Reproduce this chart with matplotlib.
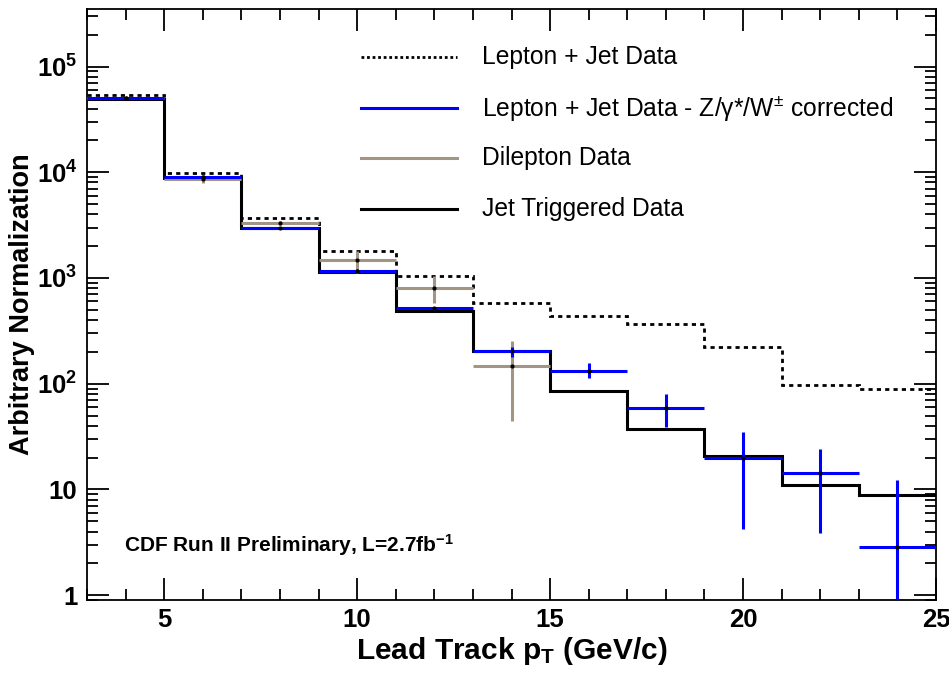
import numpy as np
import matplotlib
matplotlib.use('Agg')
import matplotlib.pyplot as plt
from matplotlib.ticker import FixedLocator, FuncFormatter, MultipleLocator
from matplotlib.lines import Line2D

plt.rcParams['font.family'] = ['Liberation Sans', 'DejaVu Sans']
plt.rcParams['mathtext.fontset'] = 'custom'
plt.rcParams['mathtext.rm'] = 'Liberation Sans'
plt.rcParams['mathtext.bf'] = 'Liberation Sans:bold'
plt.rcParams['mathtext.it'] = 'Liberation Sans:italic'

# bins in lead track pT (GeV/c)
edges = [3, 5, 7, 9, 11, 13, 15, 17, 19, 21, 23, 25]

# Lepton + Jet Data (dotted histogram)
lepjet = [5.33e4, 9.9e3, 3.73e3, 1.81e3, 1.05e3, 581, 434, 368, 221, 96.4, 89.7]
# Jet Triggered Data (solid black histogram)
jettrig = [4.97e4, 8.9e3, 2.94e3, 1.15e3, 486, 202, 85.1, 37.6, 20.6, 11.1, 8.84]
# Lepton + Jet Data - Z/gamma*/W corrected (blue points)
corr = [5.06e4, 9.03e3, 2.98e3, 1.17e3, 517, 206, 133, 58.9, 20.0, 14.2, 2.87]
corr_up = [800, 300, 80, 35, 15, 15, 23, 20.4, 14.9, 9.8, 9.5]
corr_dn = [800, 300, 80, 35, 15, 28, 19, 19.9, 15.8, 10.3, 2.4]
# Dilepton Data (tan points, bins 3-15)
dilep = [5.02e4, 8.6e3, 3.33e3, 1.49e3, 798, 147]
dilep_up = [900, 650, 150, 320, 250, 104]
dilep_dn = [900, 700, 150, 370, 213, 103]

edges = np.array(edges)
centers = (edges[:-1] + edges[1:]) / 2
halfw = (edges[1:] - edges[:-1]) / 2

tan = '#a39585'

fig = plt.figure(figsize=(9.49, 6.76), dpi=100)
ax = fig.add_axes([0.0917, 0.1124, 0.8946, 0.8743])

ax.stairs(jettrig, edges, color='black', lw=2.2, baseline=None, zorder=2)
ax.stairs(lepjet, edges, color='black', lw=2.0, ls=(0, (1.5, 1.5)), baseline=None, zorder=3)
nd = len(dilep)
ax.errorbar(centers[:nd], dilep, xerr=halfw[:nd], yerr=[dilep_dn, dilep_up],
            fmt='none', ecolor=tan, elinewidth=2.2, capsize=0, zorder=4)
ax.plot(centers[:nd], dilep, 'o', color='black', ms=2, zorder=6)
ax.errorbar(centers, corr, xerr=halfw, yerr=[corr_dn, corr_up],
            fmt='none', ecolor='blue', elinewidth=2.2, capsize=0, zorder=5)
ax.plot(centers, corr, 'o', color='black', ms=2, zorder=6)

ax.set_yscale('log')
ax.set_xlim(3, 25)
ax.set_ylim(0.90, 3.5e5)

ax.xaxis.set_major_locator(FixedLocator([5, 10, 15, 20, 25]))
ax.xaxis.set_minor_locator(MultipleLocator(1))


def yfmt(v, pos):
    if v == 1:
        return '1'
    if v == 10:
        return '10'
    return r'$\mathbf{10^{%d}}$' % int(round(np.log10(v)))


ax.yaxis.set_major_locator(FixedLocator([1, 10, 100, 1e3, 1e4, 1e5]))
ax.yaxis.set_major_formatter(FuncFormatter(yfmt))
ax.tick_params(which='both', direction='in', top=True, right=True, width=1.3)
ax.tick_params(which='major', length=15.5, labelsize=18.5)
ax.tick_params(axis='x', which='major', pad=6)
ax.tick_params(axis='y', which='major', pad=7)
ax.tick_params(which='minor', length=8)
for lab in ax.get_xticklabels() + ax.get_yticklabels():
    lab.set_fontweight('bold')
for s in ax.spines.values():
    s.set_linewidth(1.3)

ax.set_xlabel(r'Lead Track p$_\mathbf{T}$ (GeV/c)', fontsize=21.5, fontweight='bold', labelpad=2)
ax.set_ylabel('Arbitrary Normalization', fontsize=19.5, fontweight='bold', labelpad=1)

ax.text(124 / 949, 1 - 545 / 676, r'CDF Run II Preliminary, L=2.7fb$^{\mathbf{-1}}$',
        transform=fig.transFigure, fontsize=15, fontweight='bold', va='center', ha='left')

# legend drawn by hand
rows = [
    ('Lepton + Jet Data', dict(color='black', lw=2.0, ls=(0, (1.0, 1.0)))),
    (r'Lepton + Jet Data - Z/γ*/W$^{\pm}$ corrected', dict(color='blue', lw=2.2)),
    ('Dilepton Data', dict(color=tan, lw=2.2)),
    ('Jet Triggered Data', dict(color='black', lw=2.2)),
]
ys = [57, 108, 158, 209]
for (label, style), yp in zip(rows, ys):
    yf = 1 - yp / 676
    fig.add_artist(Line2D([361 / 949, 457 / 949], [yf, yf], transform=fig.transFigure, **style))
    fig.text(482 / 949, yf, label, fontsize=17.7, va='center', ha='left')

fig.savefig('out.png', dpi=100)
